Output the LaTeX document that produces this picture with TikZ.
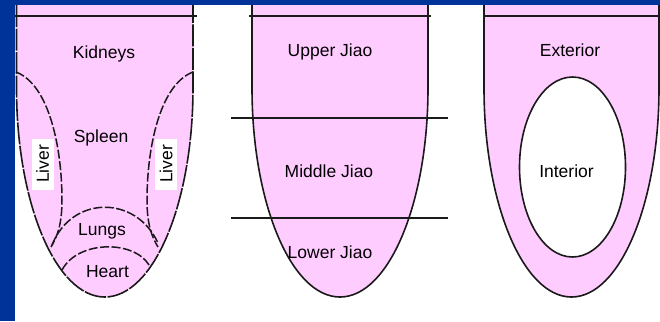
\documentclass[tikz,border=0pt]{standalone}
\usepackage{fontspec}
\setmainfont{Liberation Sans}
\definecolor{bgblue}{HTML}{003399}
\definecolor{tpink}{HTML}{FFCCFF}
\definecolor{ink}{HTML}{1A1A1A}
\begin{document}
\begin{tikzpicture}[x=1bp,y=-1bp,
  lbl/.style={font=\fontsize{17.5bp}{20bp}\selectfont, text=black, anchor=base, inner sep=0pt},
  outline/.style={draw=ink, line width=1.6bp, fill=tpink},
  dashline/.style={draw=ink, line width=1.5bp, dash pattern=on 9bp off 2.5bp},
  sep/.style={draw=ink, line width=1.6bp},
  liverbox/.style={fill=white, rotate=90, inner sep=0pt, minimum width=51bp, minimum height=22bp, font=\fontsize{17.5bp}{20bp}\selectfont}
]
\useasboundingbox (0,0) rectangle (660,321);
% background
\fill[white] (0,0) rectangle (660,321);
\fill[bgblue] (0,0) rectangle (660,5);
\fill[bgblue] (0,0) rectangle (15,321);

% ---------- Tongue 1 ----------
\path[outline, dash pattern=on 22bp off 1.5bp] (16.5,5) -- (16.5,88) arc[start angle=180, end angle=360, x radius=88.25bp, y radius=209bp] -- (193,5);
\coordinate (t1l) at (15,16);
\coordinate (t1r) at (197,16);
\draw[sep] (t1l) -- (t1r);
% liver curves
\coordinate (lv1a) at (16,72);
\coordinate (lv1b) at (62,200);
\coordinate (lv1c) at (51,247);
\draw[dashline] (lv1a) .. controls (50,85) and (62,150) .. (lv1b) .. controls (62,225) and (57,237) .. (lv1c);
\coordinate (lv2a) at (193,72);
\coordinate (lv2b) at (147,200);
\coordinate (lv2c) at (158,247);
\draw[dashline] (lv2a) .. controls (159,85) and (147,150) .. (lv2b) .. controls (147,225) and (152,237) .. (lv2c);
% lungs and heart arcs
\coordinate (lu1) at (52,245);
\coordinate (lu2) at (158,243);
\draw[dashline] (lu1) .. controls (72,195) and (136,195) .. (lu2);
\coordinate (he1) at (62,270);
\coordinate (he2) at (149,265);
\draw[dashline] (he1) .. controls (78,240) and (134,240) .. (he2);

\node[lbl] (kidneys) at (104,58) {Kidneys};
\node[lbl] (spleen) at (101,142) {Spleen};
\node[lbl] (lungs) at (102,235) {Lungs};
\node[lbl] (heart) at (107.5,277) {Heart};
\node[liverbox] (liverL) at (42.5,164) {Liver};
\node[liverbox] (liverR) at (166,164) {Liver};

% ---------- Tongue 2 ----------
\path[outline] (252,5) -- (252,88) arc[start angle=180, end angle=360, x radius=88bp, y radius=209bp] -- (428,5);
\coordinate (t2l) at (249,16);
\coordinate (t2r) at (431,16);
\draw[sep] (t2l) -- (t2r);
\coordinate (m1l) at (231,118);
\coordinate (m1r) at (448,118);
\draw[sep] (m1l) -- (m1r);
\coordinate (m2l) at (231,218);
\coordinate (m2r) at (448,218);
\draw[sep] (m2l) -- (m2r);
\node[lbl] (upper) at (330,56) {Upper Jiao};
\node[lbl] (middle) at (329,177) {Middle Jiao};
\node[lbl] (lower) at (330,258) {Lower Jiao};

% ---------- Tongue 3 ----------
\path[outline] (484,5) -- (484,88) arc[start angle=180, end angle=360, x radius=87.5bp, y radius=209bp] -- (659,5);
\coordinate (t3l) at (483,16);
\coordinate (t3r) at (660,16);
\draw[sep] (t3l) -- (t3r);
\path[draw=ink, line width=1.6bp, fill=white] (572.5,167) ellipse[x radius=53bp, y radius=90bp];
\node[lbl] (exterior) at (570,56) {Exterior};
\node[lbl] (interior) at (566.5,177) {Interior};
\end{tikzpicture}
\end{document}
